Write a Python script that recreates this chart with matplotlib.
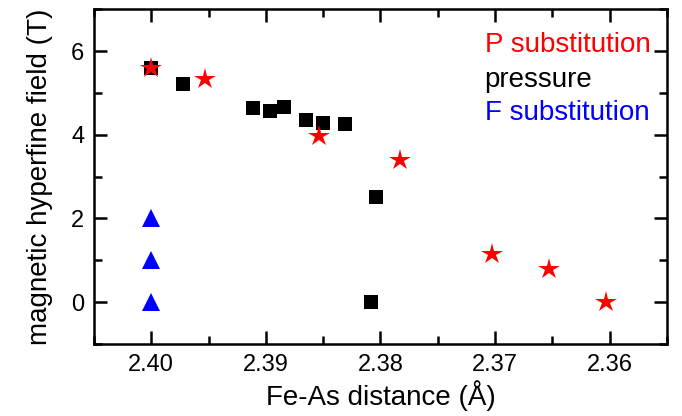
import numpy as np
import matplotlib
matplotlib.use('Agg')
import matplotlib.pyplot as plt
from matplotlib.ticker import MultipleLocator, FormatStrFormatter

plt.rcParams['font.family'] = ['Liberation Sans', 'DejaVu Sans']

# pressure series (black squares)
press_x = [2.4000, 2.3972, 2.3911, 2.3896, 2.3884, 2.3865, 2.3850, 2.3831, 2.3804, 2.3808]
press_y = [5.60, 5.21, 4.63, 4.57, 4.67, 4.36, 4.27, 4.25, 2.51, 0.0]

# P substitution (red stars)
p_x = [2.4000, 2.3953, 2.3854, 2.3783, 2.3703, 2.3653, 2.3603]
p_y = [5.60, 5.34, 3.98, 3.40, 1.16, 0.80, 0.0]

# F substitution (blue triangles)
f_x = [2.4000, 2.4000, 2.4000]
f_y = [2.0, 1.0, 0.0]

fig = plt.figure(figsize=(6.82, 4.16), dpi=100)
ax = fig.add_axes([0.1378, 0.173, 0.840, 0.805])

ax.plot(press_x, press_y, 's', color='black', ms=10.5, mew=0, linestyle='none')
ax.plot(f_x, f_y, '^', color='blue', ms=13, mew=0, linestyle='none')
ax.plot(p_x, p_y, '*', color='red', ms=16, mew=0, linestyle='none')

ax.set_xlim(2.405, 2.355)
ax.set_ylim(-1, 7)
ax.xaxis.set_major_locator(MultipleLocator(0.01))
ax.xaxis.set_minor_locator(MultipleLocator(0.005))
ax.yaxis.set_major_locator(MultipleLocator(2))
ax.yaxis.set_minor_locator(MultipleLocator(1))
ax.xaxis.set_major_formatter(FormatStrFormatter('%.2f'))

ax.tick_params(which='both', direction='in', top=True, right=True,
               width=1.8, labelsize=17, pad=7)
ax.tick_params(which='major', length=9.5)
ax.tick_params(which='minor', length=5.5)
for s in ax.spines.values():
    s.set_linewidth(1.8)

ax.set_xlabel('Fe-As distance (Å)', fontsize=20, labelpad=3)
ax.set_ylabel('magnetic hyperfine field (T)', fontsize=20, labelpad=13)

ax.text(0.682, 0.893, 'P substitution', color='red', fontsize=20,
        transform=ax.transAxes, va='center', ha='left')
ax.text(0.682, 0.788, 'pressure', color='black', fontsize=20,
        transform=ax.transAxes, va='center', ha='left')
ax.text(0.682, 0.690, 'F substitution', color='blue', fontsize=20,
        transform=ax.transAxes, va='center', ha='left')

fig.savefig('out.png', dpi=100)
